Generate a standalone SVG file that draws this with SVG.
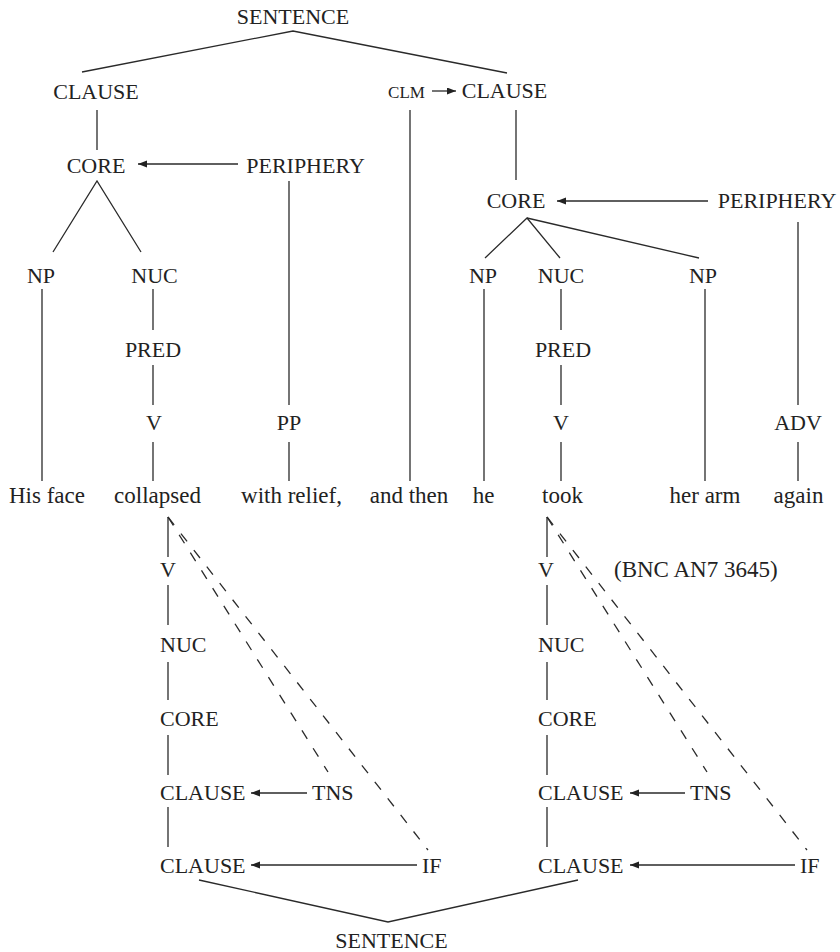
<svg xmlns="http://www.w3.org/2000/svg" width="840" height="952" viewBox="0 0 840 952">
<defs>
<style>
text{font-size:22px;fill:#222}
.c{text-anchor:middle}
.w{font-size:23px}
.sm{font-size:17px}
line,polyline{stroke:#2a2a2a;stroke-width:1.3;fill:none}
.d{stroke-dasharray:10 11}
.a{marker-end:url(#ah)}
</style>
<marker id="ah" markerUnits="userSpaceOnUse" markerWidth="10" markerHeight="8" refX="9" refY="3.5" orient="auto">
<path d="M0,0 L9,3.5 L0,7 z" fill="#222"/>
</marker>
</defs>
<rect width="840" height="952" fill="#fff"/>
<g id="connectors">
<polyline points="82,72 293,31 507,73"/>
<line x1="97" y1="110" x2="97" y2="150"/>
<line class="a" x1="238" y1="164" x2="138" y2="164"/>
<polyline points="53,252 97,181 141,252"/>
<line x1="42" y1="289" x2="42" y2="481"/>
<line x1="153" y1="289" x2="153" y2="330"/>
<line x1="153" y1="365" x2="153" y2="405"/>
<line x1="153" y1="442" x2="153" y2="481"/>
<line x1="289" y1="181" x2="289" y2="405"/>
<line x1="289" y1="442" x2="289" y2="481"/>
<line class="a" x1="432" y1="91" x2="456" y2="91"/>
<line x1="410" y1="110" x2="410" y2="481"/>
<line x1="516" y1="110" x2="516" y2="180"/>
<line class="a" x1="708" y1="201" x2="557" y2="201"/>
<polyline points="485,258 527,218 560,258"/>
<line x1="527" y1="218" x2="699" y2="258"/>
<line x1="484" y1="289" x2="484" y2="481"/>
<line x1="561" y1="289" x2="561" y2="330"/>
<line x1="561" y1="365" x2="561" y2="405"/>
<line x1="561" y1="442" x2="561" y2="481"/>
<line x1="705" y1="289" x2="705" y2="481"/>
<line x1="798" y1="222" x2="798" y2="405"/>
<line x1="798" y1="442" x2="798" y2="481"/>
<line x1="168" y1="517" x2="168" y2="557"/>
<line x1="168" y1="585" x2="168" y2="625"/>
<line x1="168" y1="662" x2="168" y2="700"/>
<line x1="168" y1="735" x2="168" y2="775"/>
<line x1="168" y1="807" x2="168" y2="847"/>
<line class="d" x1="168" y1="517" x2="328" y2="772"/>
<line class="d" x1="168" y1="517" x2="428" y2="850"/>
<line class="a" x1="307" y1="793" x2="251" y2="793"/>
<line class="a" x1="417" y1="865" x2="251" y2="865"/>
<line x1="547" y1="517" x2="547" y2="557"/>
<line x1="547" y1="585" x2="547" y2="625"/>
<line x1="547" y1="662" x2="547" y2="700"/>
<line x1="547" y1="735" x2="547" y2="775"/>
<line x1="547" y1="807" x2="547" y2="847"/>
<line class="d" x1="547" y1="517" x2="707" y2="772"/>
<line class="d" x1="547" y1="517" x2="807" y2="850"/>
<line class="a" x1="685" y1="793" x2="630" y2="793"/>
<line class="a" x1="795" y1="865" x2="630" y2="865"/>
<polyline points="199,880 388,922 578,880"/>
</g>
<g id="labels" font-family="'Liberation Serif', 'Times New Roman', serif">
<g id="sentence-top"><text class="c" x="293" y="24">SENTENCE</text></g>
<g id="clause-l"><text class="c" x="96" y="99">CLAUSE</text></g>
<g id="clm"><text class="c sm" x="406.5" y="98">CLM</text></g>
<g id="clause-r"><text class="c" x="504.5" y="98">CLAUSE</text></g>
<g id="core-l"><text class="c" x="96" y="173">CORE</text></g>
<g id="periphery-l"><text class="c" x="305.5" y="173">PERIPHERY</text></g>
<g id="core-r"><text class="c" x="516" y="208">CORE</text></g>
<g id="periphery-r"><text class="c" x="777" y="208">PERIPHERY</text></g>
<g id="np-l"><text class="c" x="41" y="283">NP</text></g>
<g id="nuc-l"><text class="c" x="154.5" y="283">NUC</text></g>
<g id="np-r1"><text class="c" x="483" y="283">NP</text></g>
<g id="nuc-r"><text class="c" x="561" y="283">NUC</text></g>
<g id="np-r2"><text class="c" x="703" y="283">NP</text></g>
<g id="pred-l"><text class="c" x="153" y="357">PRED</text></g>
<g id="pred-r"><text class="c" x="563" y="357">PRED</text></g>
<g id="v-l"><text class="c" x="154" y="430">V</text></g>
<g id="pp"><text class="c" x="289" y="430">PP</text></g>
<g id="v-r"><text class="c" x="561" y="430">V</text></g>
<g id="adv"><text class="c" x="798" y="430">ADV</text></g>
<g id="w-hisface"><text class="c w" x="47" y="503">His face</text></g>
<g id="w-collapsed"><text class="c w" x="157.5" y="503">collapsed</text></g>
<g id="w-withrelief"><text class="c w" x="291.5" y="503">with relief,</text></g>
<g id="w-andthen"><text class="c w" x="409" y="503">and then</text></g>
<g id="w-he"><text class="c w" x="483.5" y="503">he</text></g>
<g id="w-took"><text class="c w" x="562.5" y="503">took</text></g>
<g id="w-herarm"><text class="c w" x="705" y="503">her arm</text></g>
<g id="w-again"><text class="c w" x="798.5" y="503">again</text></g>
<g id="lv-l"><text x="160" y="577">V</text></g>
<g id="lnuc-l"><text x="160" y="652">NUC</text></g>
<g id="lcore-l"><text x="160" y="726">CORE</text></g>
<g id="lclause1-l"><text x="160" y="800">CLAUSE</text></g>
<g id="lclause2-l"><text x="160" y="873">CLAUSE</text></g>
<g id="tns-l"><text x="312" y="800">TNS</text></g>
<g id="if-l"><text x="422" y="873">IF</text></g>
<g id="lv-r"><text x="538" y="577">V</text></g>
<g id="lnuc-r"><text x="538" y="652">NUC</text></g>
<g id="lcore-r"><text x="538" y="726">CORE</text></g>
<g id="lclause1-r"><text x="538" y="800">CLAUSE</text></g>
<g id="lclause2-r"><text x="538" y="873">CLAUSE</text></g>
<g id="tns-r"><text x="690" y="800">TNS</text></g>
<g id="if-r"><text x="800" y="873">IF</text></g>
<g id="source"><text class="w" x="614" y="577">(BNC AN7 3645)</text></g>
<g id="sentence-bottom"><text class="c" x="391.5" y="948">SENTENCE</text></g>
</g>
</svg>
